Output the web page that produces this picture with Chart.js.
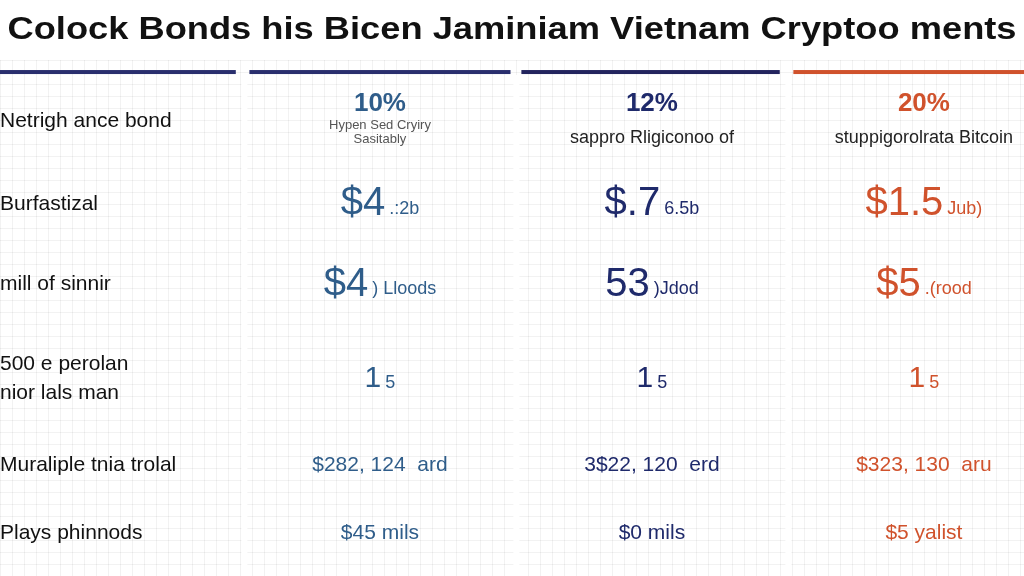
<!DOCTYPE html><html><head><meta charset="utf-8">
<script src="https://cdn.jsdelivr.net/npm/chart.js@4"></script>
<style>html,body{margin:0;padding:0;background:#fff}#w{width:1024px;height:576px}</style></head>
<body><div id="w"><canvas id="c"></canvas></div>
<script>
const title = "Colock Bonds his Bicen Jaminiam Vietnam Cryptoo ments";
const rowLabels = [["Netrigh ance bond"],["Burfastizal"],["mill of sinnir"],["500 e perolan","nior lals man"],["Muraliple tnia trolal"],["Plays phinnods"]];
const colColors = ["#2f5d8a","#1f2a6b","#d0522c"];
const headerColors = ["#2a2f6e","#2a2f6e","#23245e","#d0522c"];
const rowHeaderBig = ["10%","12%","20%"];
const rowHeaderSmall = [["Hypen Sed Cryiry","Sasitably"],["sappro Rligiconoo of"],["stuppigorolrata Bitcoin"]];
const row2Big = ["$4",  "$.7", "$1.5"];
const row2Small = [".:2b","6.5b","Jub)"];
const row3Big = ["$4","53","$5"];
const row3Small = [") Lloods",")Jdod",".(rood"];
const row4Big = ["1","1","1"];
const row4Small = ["5","5","5"];
const row5Text = ["$282, 124  ard","3$22, 120  erd","$323, 130  aru"];
const row6Text = ["$45 mils","$0 mils","$5 yalist"];
const colIdx = [0,1,2];
const rowIdx = [0,1,2,3,4,5];
const rowPos = [0,1,1.97,3.1,4.15,4.97];

const tablePlugin = {id:'tbl',
 beforeDraw(ch){const c=ch.ctx,W=ch.width,H=ch.height;c.save();c.fillStyle='#fff';c.fillRect(0,0,W,H);
  c.strokeStyle='rgba(0,0,0,0.05)';c.lineWidth=1;
  for(let x=0;x<W;x+=12){c.beginPath();c.moveTo(x+.5,60);c.lineTo(x+.5,H);c.stroke();}
  for(let y=60;y<H;y+=12){c.beginPath();c.moveTo(0,y+.5);c.lineTo(W,y+.5);c.stroke();}
  c.restore();},
 afterDraw(ch){const c=ch.ctx,xs=ch.scales.x,ys=ch.scales.y;c.save();
  c.fillStyle='#111';c.font='bold 31px "Liberation Sans"';c.textAlign='center';c.textBaseline='middle';
  c.save();c.translate(ch.width/2,30);c.scale(1.17,1);c.fillText(title,0,0);c.restore();
  const hy=ys.getPixelForValue(-0.59);
  const bounds=[[xs.getPixelForValue(-1.4),xs.getPixelForValue(-0.53)],[xs.getPixelForValue(-0.48),xs.getPixelForValue(0.48)],[xs.getPixelForValue(0.52),xs.getPixelForValue(1.47)],[xs.getPixelForValue(1.52),xs.getPixelForValue(2.4)]];
  bounds.forEach((b,i)=>{c.fillStyle=headerColors[i];c.fillRect(b[0],hy-2,b[1]-b[0],4);
    if(i>0){c.fillStyle='#fff';c.fillRect(b[0]-8,hy+3,6,ch.height);}});
  c.textAlign='left';c.fillStyle='#111';c.font='21px "Liberation Sans"';
  rowIdx.forEach(r=>{const y=ys.getPixelForValue(rowPos[r]),L=rowLabels[r];L.forEach((t,k)=>c.fillText(t,0,y+(k-(L.length-1)/2)*29));});
  colIdx.forEach(i=>{const x=xs.getPixelForValue(i),col=colColors[i];c.fillStyle=col;c.textAlign='center';
    let y=ys.getPixelForValue(0);c.font='bold 26px "Liberation Sans"';c.fillText(rowHeaderBig[i],x,y-17);
    const sm=rowHeaderSmall[i];c.font=(sm.length>1?'13px':'18px')+' "Liberation Sans"';c.fillStyle=sm.length>1?'#555':'#222';
    sm.forEach((t,k)=>c.fillText(t,x,y+(sm.length>1?k*14+4:17)));
    const pair=(r,big,small,bs)=>{const y=ys.getPixelForValue(r);c.fillStyle=col;c.font=bs+'px "Liberation Sans"';const bw=c.measureText(big).width;c.font='18px "Liberation Sans"';const sw=c.measureText(small).width;
      const x0=x-(bw+sw+4)/2;c.textAlign='left';c.font=bs+'px "Liberation Sans"';c.fillText(big,x0,y);c.font='18px "Liberation Sans"';c.fillText(small,x0+bw+4,y+5);c.textAlign='center';};
    pair(rowPos[1],row2Big[i],row2Small[i],40);pair(rowPos[2],row3Big[i],row3Small[i],40);pair(rowPos[3],row4Big[i],row4Small[i],30);
    c.font='21px "Liberation Sans"';c.fillStyle=col;c.fillText(row5Text[i],x,ys.getPixelForValue(rowPos[4]));
    c.fillText(row6Text[i],x,ys.getPixelForValue(rowPos[5]));});
  c.restore();}};

new Chart(document.getElementById('c'),{type:'scatter',
 data:{datasets:[{data:colIdx.flatMap(i=>rowIdx.map(r=>({x:i,y:rowPos[r]}))),pointRadius:0}]},
 options:{responsive:true,maintainAspectRatio:false,animation:false,layout:{padding:0},
  plugins:{legend:{display:false},tooltip:{enabled:false}},
  scales:{x:{type:'linear',display:false,min:-1.397,max:2.368},y:{type:'linear',display:false,reverse:true,min:-1.458,max:5.482}}},
 plugins:[tablePlugin]});
</script></body></html>
